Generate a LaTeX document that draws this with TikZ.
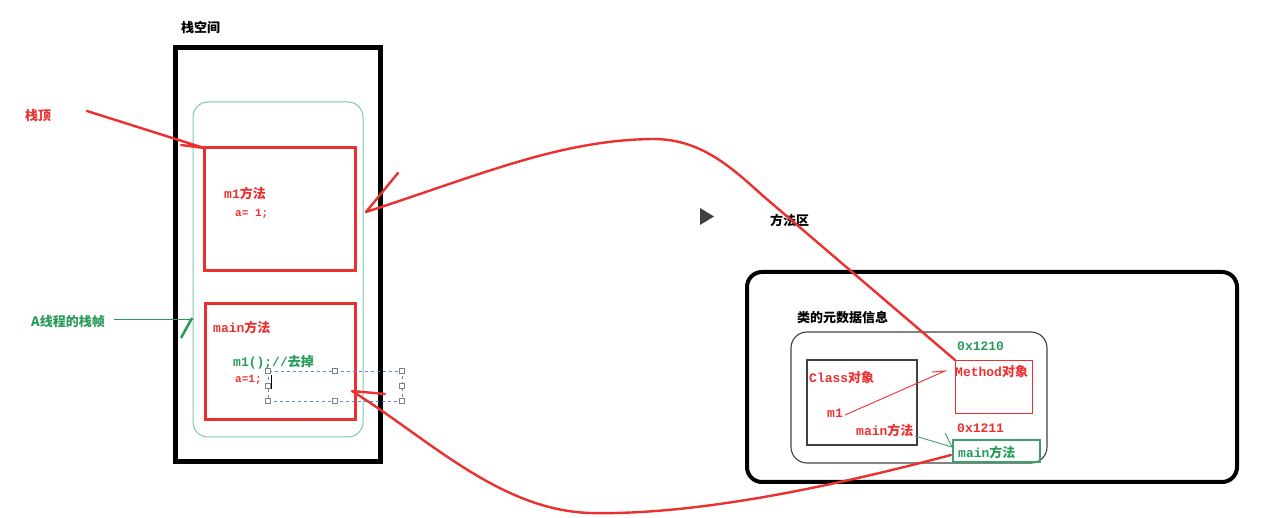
\documentclass[tikz,border=0pt]{standalone}
\usepackage{fontspec}
\newfontfamily\cjkf{Noto Sans CJK SC}
\newfontfamily\monof{Liberation Mono}
\definecolor{cred}{RGB}{236,48,48}
\definecolor{cgreen}{RGB}{40,155,90}
\definecolor{cteal}{RGB}{125,200,170}
\definecolor{cgbox}{RGB}{60,160,110}
\definecolor{cblue}{RGB}{100,130,220}
\newcommand\cj[1]{{\cjkf\bfseries #1}}
\newcommand\mo[1]{{\monof\bfseries #1}}
\begin{document}
\begin{tikzpicture}[x=1pt,y=-1pt,
  box/.style={draw,inner sep=0pt,outer sep=0pt},
  lbl/.style={anchor=west,inner sep=0pt,font=\fontsize{13}{13}\selectfont},
  redline/.style={draw=cred,line width=2.4pt,line cap=round,line join=round},
  thinred/.style={draw=cred,line width=0.9pt},
  handle/.style={draw=gray,fill=white,line width=0.6pt,minimum size=5pt,inner sep=0pt}]
\useasboundingbox (0,0) rectangle (1283,518);
% stack side
\node[box,line width=5pt,minimum width=205pt,minimum height=414pt] (stack) at (277.5,255) {};
\node[box,draw=cteal,line width=1pt,rounded corners=15pt,minimum width=170pt,minimum height=335pt] (frame) at (278,269.5) {};
\node[box,draw=cred,line width=3pt,minimum width=151pt,minimum height=123pt] (m1box) at (279.5,209.5) {};
\node[box,draw=cred,line width=3pt,minimum width=150pt,minimum height=116pt] (mainbox) at (280,362) {};
\node[lbl] (t-stack) at (181,27) {\cj{栈空间}};
\node[lbl,text=cred] (t-top) at (25,116) {\cj{栈顶}};
\node[lbl,text=cgreen] (t-frame) at (31,322) {\cj{A线程的栈帧}};
\node[lbl,text=cred] (t-m1) at (224,193) {\mo{m1}\cj{方法}};
\node[lbl,text=cred] (t-a1) at (235,214) {\mo{\fontsize{11}{11}\selectfont a= 1;}};
\node[lbl,text=cred] (t-main) at (213,327) {\mo{main}\cj{方法}};
\node[lbl,text=cgreen] (t-call) at (233,362) {\mo{m1();//}\cj{去掉}};
\node[lbl,text=cred] (t-a2) at (235,380) {\mo{\fontsize{11}{11}\selectfont a=1;}};
% selection box
\draw[cblue,line width=0.8pt,dash pattern=on 3pt off 3pt] (268,371) rectangle (402,401);
\foreach \p/\n in {{268,371}/h1,{335,371}/h2,{402,371}/h3,{268,386}/h4,{402,386}/h5,{268,401}/h6,{335,401}/h7,{402,401}/h8}
  \node[handle] (\n) at (\p) {};
\draw[black,line width=0.8pt] (271,375) -- (271,389);
% method area
\node[box,line width=4pt,rounded corners=15pt,minimum width=490pt,minimum height=210pt] (area) at (992,377) {};
\node[box,draw=black!75,line width=1.1pt,rounded corners=16pt,minimum width=256pt,minimum height=131pt] (meta) at (919,397.5) {};
\node[box,draw=black!75,line width=1.1pt,minimum width=110pt,minimum height=85pt] (classbox) at (862,402.5) {};
\node[box,draw=cred,line width=0.9pt,minimum width=77pt,minimum height=53pt] (methodbox) at (993.5,386.5) {};
\node[box,draw=cgbox,line width=1.1pt,minimum width=87pt,minimum height=22pt] (mainmbox) at (996.5,451) {};
\node[lbl] (t-area) at (770,220) {\cj{方法区}};
\node[lbl] (t-meta) at (797,318) {\cj{类的元数据信息}};
\node[lbl,text=cred] (t-class) at (809,378) {\mo{Class}\cj{对象}};
\node[lbl,text=cred] (t-cm1) at (827,413) {\mo{m1}};
\node[lbl,text=cred] (t-cmain) at (856,430) {\mo{main}\cj{方法}};
\node[lbl,text=cgreen] (t-addr1) at (957,346) {\mo{0x1210}};
\node[lbl,text=cred] (t-method) at (955,372) {\mo{Method}\cj{对象}};
\node[lbl,text=cred] (t-addr2) at (957,428) {\mo{0x1211}};
\node[lbl,text=cgreen] (t-mmain) at (958,452) {\mo{main}\cj{方法}};
% play triangle
\fill[black!75] (700,208) -- (714,216.5) -- (700,225) -- cycle;
% connectors
\coordinate (topstart) at (87,111);
\coordinate (toptip) at (m1box.north west);
\draw[redline] (topstart) -- (toptip) -- ++(-23,-3);
\coordinate (c1start) at (methodbox.north west);
\coordinate (c1tip) at (366,212);
\draw[redline] (c1start) -- (762,195) .. controls (730,166) and (700,139) .. (653,139)
  .. controls (560,140) and (480,175) .. (c1tip) -- (398,173);
\coordinate (c2start) at (951,455);
\coordinate (c2tip) at (352,391);
\draw[redline] (c2start) .. controls (800,495) and (680,515) .. (590,513)
  .. controls (500,510) and (430,440) .. (c2tip) -- (385,394);
\coordinate (fstart) at (114,320);
\coordinate (fend) at (frame.west |- fstart);
\draw[cgreen,line width=1pt] (fstart) -- (fend);
\draw[cgreen,line width=2.5pt] (181,338) -- (192,318);
\coordinate (m1s) at (845,415);
\coordinate (m1t) at (945,371);
\draw[thinred] (m1s) -- (m1t) -- ++(-13,1);
\coordinate (mms) at (915,436);
\coordinate (mmt) at (mainmbox.west);
\draw[cgbox,line width=0.9pt] (mms) -- (952,447) -- (945,433);
\end{tikzpicture}
\end{document}
